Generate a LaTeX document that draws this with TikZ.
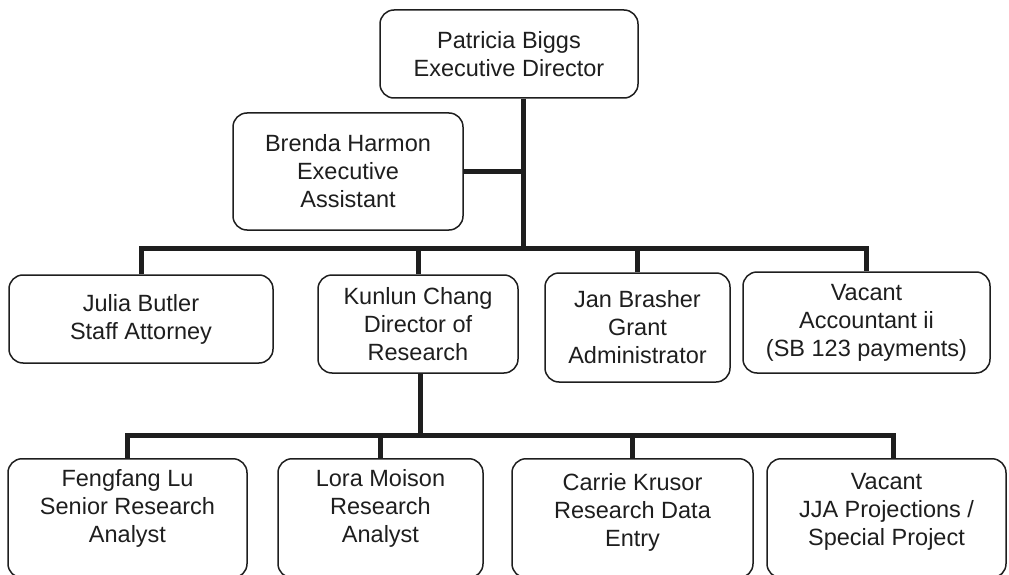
\documentclass[tikz,border=0pt]{standalone}
\usepackage{fontspec}
\setmainfont{Liberation Sans}
\definecolor{ink}{RGB}{30,30,30}
\newcommand{\lowtext}[3]{\raisebox{0pt}[#1][#2]{\begin{tabular}[b]{@{}c@{}}#3\end{tabular}}}
\tikzset{
  orgbox/.style={draw=ink, text=ink, line width=1.5pt, rounded corners=14pt, inner sep=0pt,
    align=center, font=\fontsize{23.5}{28}\selectfont},
  conn/.style={draw=ink, line width=5pt, line join=miter}
}
\begin{document}
\begin{tikzpicture}[x=1pt,y=-1pt]
\useasboundingbox (0,0) rectangle (1009,575);
\clip (0,0) rectangle (1009,575);
% top
\node[orgbox, minimum width=258pt, minimum height=88pt] (pb) at (509,54) {Patricia Biggs\\Executive Director};
\node[orgbox, minimum width=230pt, minimum height=117pt] (bh) at (348,171.5) {Brenda Harmon\\Executive\\Assistant};
% second row
\node[orgbox, minimum width=264pt, minimum height=88pt] (jb) at (141,319) {Julia Butler\\Staff Attorney};
\node[orgbox, minimum width=200pt, minimum height=98pt] (kc) at (418,324) {Kunlun Chang\\Director of\\Research};
\node[orgbox, minimum width=185pt, minimum height=109pt] (jn) at (637.5,327.5) {Jan Brasher\\Grant\\Administrator};
\node[orgbox, minimum width=247pt, minimum height=101pt] (va) at (866.5,322.5) {Vacant\\Accountant ii\\(SB 123 payments)};
% third row
\node[orgbox, anchor=north, minimum width=239pt] (fl) at (127.5,458) {\lowtext{84pt}{35pt}{Fengfang Lu\\Senior Research\\Analyst}};
\node[orgbox, anchor=north, minimum width=205pt] (lm) at (380.5,458) {\lowtext{84pt}{35pt}{Lora Moison\\Research\\Analyst}};
\node[orgbox, anchor=north, minimum width=241pt] (ck) at (632.5,458) {\lowtext{88pt}{31pt}{Carrie Krusor\\Research Data\\Entry}};
\node[orgbox, anchor=north, minimum width=239pt] (vj) at (886.5,458) {\lowtext{87pt}{32pt}{Vacant\\JJA Projections /\\Special Project}};
% connectors
\coordinate (b1) at (523,248);
\coordinate (b2) at (420,435);
\draw[conn] (pb.south -| b1) -- (b1);
\draw[conn] (bh.east) -- (bh.east -| b1);
\draw[conn] (jb.north) -- (jb.north |- b1) -- (va.north |- b1) -- (va.north);
\draw[conn] (kc.north) -- (kc.north |- b1);
\draw[conn] (jn.north) -- (jn.north |- b1);
\draw[conn] (kc.south -| b2) -- (b2);
\draw[conn] (fl.north) -- (fl.north |- b2) -- ([xshift=6.5pt]vj.north |- b2) -- ([xshift=6.5pt]vj.north);
\draw[conn] (lm.north) -- (lm.north |- b2);
\draw[conn] (ck.north) -- (ck.north |- b2);
\end{tikzpicture}
\end{document}
